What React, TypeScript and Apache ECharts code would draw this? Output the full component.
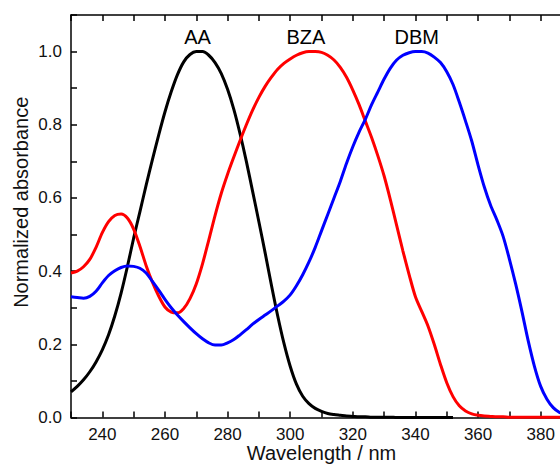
import React, { useEffect, useRef } from "react";
import * as echarts from "echarts";

const wavelengths = [
  230, 232, 234, 236, 238, 240, 242, 244, 246, 248,
  250, 252, 254, 256, 258, 260, 262, 264, 266, 268,
  270, 272, 274, 276, 278, 280, 282, 284, 286, 288,
  290, 292, 294, 296, 298, 300, 302, 304, 306, 308,
  310, 312, 314, 316, 318, 320, 322, 324, 326, 328,
  330, 332, 334, 336, 338, 340, 342, 344, 346, 348,
  350, 352, 354, 356, 358, 360, 362, 364, 366, 368,
  370, 372, 374, 376, 378, 380, 382, 384, 386, 388,
  390,
];

const aa = [
  0.07, 0.085, 0.103, 0.125, 0.152, 0.185, 0.226, 0.278, 0.34, 0.412,
  0.49, 0.562, 0.635, 0.705, 0.772, 0.835, 0.89, 0.937, 0.972, 0.992,
  1.0, 1.0, 0.99, 0.97, 0.94, 0.897, 0.842, 0.775, 0.7, 0.618,
  0.535, 0.45, 0.362, 0.278, 0.203, 0.14, 0.091, 0.058, 0.038, 0.025,
  0.017, 0.011, 0.008, 0.006, 0.004, 0.003, 0.002, 0.002, 0.001, 0.001,
  0.001, 0.001, 0, 0, 0, 0, 0, 0, 0, 0,
  0, 0, null, null, null, null, null, null, null, null,
  null, null, null, null, null, null, null, null, null, null,
  null,
];

const bza = [
  0.395, 0.4, 0.412, 0.432, 0.465, 0.505, 0.535, 0.552, 0.556, 0.545,
  0.515, 0.468, 0.415, 0.37, 0.332, 0.302, 0.288, 0.286, 0.298, 0.325,
  0.365, 0.42, 0.485, 0.552, 0.613, 0.665, 0.712, 0.757, 0.8, 0.84,
  0.875, 0.905, 0.93, 0.952, 0.968, 0.98, 0.99, 0.997, 1.0, 1.0,
  0.998, 0.99, 0.977, 0.957, 0.93, 0.895, 0.855, 0.81, 0.765, 0.715,
  0.66, 0.595, 0.525, 0.455, 0.39, 0.33, 0.29, 0.25, 0.2, 0.145,
  0.095, 0.057, 0.032, 0.018, 0.01, 0.006, 0.004, 0.003, 0.002, 0.002,
  0.001, 0.001, 0.001, 0.001, 0.001, 0.001, 0.001, 0.001, 0.001, 0.001,
  0.001,
];

const dbm = [
  0.33, 0.328, 0.326, 0.331, 0.345, 0.368, 0.388, 0.401, 0.41, 0.414,
  0.413, 0.408, 0.395, 0.372, 0.348, 0.323, 0.3, 0.28, 0.262, 0.245,
  0.229, 0.215, 0.204, 0.198, 0.198, 0.204, 0.213, 0.226, 0.24, 0.255,
  0.268, 0.28, 0.292, 0.305, 0.318, 0.335, 0.36, 0.39, 0.425, 0.465,
  0.51, 0.555, 0.6, 0.645, 0.695, 0.74, 0.78, 0.815, 0.855, 0.89,
  0.925, 0.955, 0.977, 0.99, 0.997, 1.0, 1.0, 0.996, 0.985, 0.97,
  0.945, 0.91, 0.862, 0.81, 0.755, 0.69, 0.63, 0.58, 0.54, 0.495,
  0.433, 0.365, 0.29, 0.21, 0.14, 0.085, 0.05, 0.027, 0.014, 0.008,
  0.005,
];

const seriesNames = ["AA", "BZA", "DBM"];
const seriesColors = ["#000000", "#ff0000", "#0000ff"];
// label anchor positions in data units [wavelength, absorbance]
const labelWavelengths = [270.4, 305.0, 340.4];
const labelLevel = 1.039;

const FONT = "'Liberation Sans', Arial, sans-serif";

export default function App() {
  const ref = useRef<HTMLDivElement>(null);

  useEffect(() => {
    if (!ref.current) return;
    const chart = echarts.init(ref.current, null, { renderer: "svg" });
    const values = [aa, bza, dbm];

    const axisLine = { show: true, lineStyle: { color: "#000", width: 1.5 } };
    const tick = { show: true, inside: true, length: 6, lineStyle: { color: "#000", width: 1.5 } };

    const option: any = {
      animation: false,
      backgroundColor: "#ffffff",
      grid: {
        left: 71,
        top: 15,
        width: 501,
        height: 402.5,
        outerBoundsMode: "none",
        containLabel: false,
      },
      xAxis: [
        {
          type: "value",
          position: "bottom",
          min: 230,
          max: 390,
          interval: 10,
          name: "Wavelength / nm",
          nameLocation: "middle",
          nameGap: 26,
          nameMoveOverlap: false,
          nameTextStyle: { fontSize: 20, color: "#111", fontFamily: FONT, lineHeight: 18 },
          axisLine,
          axisTick: tick,
          axisLabel: {
            show: true,
            fontSize: 17,
            lineHeight: 17,
            color: "#111",
            fontFamily: FONT,
            margin: 8,
            formatter: (v: number) => (Math.round(v) % 20 === 0 ? String(Math.round(v)) : ""),
          },
          splitLine: { show: false },
        },
        {
          type: "value",
          position: "top",
          min: 230,
          max: 390,
          interval: 10,
          axisLine,
          axisTick: tick,
          axisLabel: { show: false },
          splitLine: { show: false },
        },
      ],
      yAxis: {
        type: "value",
        min: 0,
        max: 1.1,
        interval: 0.1,
        name: "Normalized absorbance",
        nameLocation: "middle",
        nameGap: 40,
        nameMoveOverlap: false,
        nameTextStyle: {
          fontSize: 20,
          color: "#111",
          fontFamily: FONT,
          padding: [0, 0, 0, 28],
        },
        axisLine,
        axisTick: tick,
        axisLabel: {
          fontSize: 17,
          color: "#111",
          fontFamily: FONT,
          margin: 9,
          formatter: (v: number) => {
            const r = Math.round(v * 10);
            return r % 2 === 0 && r <= 10 ? (r / 10).toFixed(1) : "";
          },
        },
        splitLine: { show: false },
      },
      series: seriesNames.map((name, i) => ({
        name,
        type: "line",
        xAxisIndex: 0,
        data: wavelengths.map((w, j) => [w, values[i][j]]),
        showSymbol: false,
        smooth: 0.3,
        connectNulls: false,
        lineStyle: { color: seriesColors[i], width: 3 },
        itemStyle: { color: seriesColors[i] },
        markPoint: {
          symbol: "circle",
          symbolSize: 0,
          silent: true,
          label: {
            show: true,
            position: "inside",
            color: "#000",
            fontSize: 20,
            fontFamily: FONT,
            formatter: name,
          },
          data: [{ coord: [labelWavelengths[i], labelLevel] }],
        },
      })),
    };

    chart.setOption(option);
    return () => chart.dispose();
  }, []);

  return (
    <div
      ref={ref}
      style={{ position: "absolute", left: 0, top: 0, width: 560, height: 464 }}
    />
  );
}
